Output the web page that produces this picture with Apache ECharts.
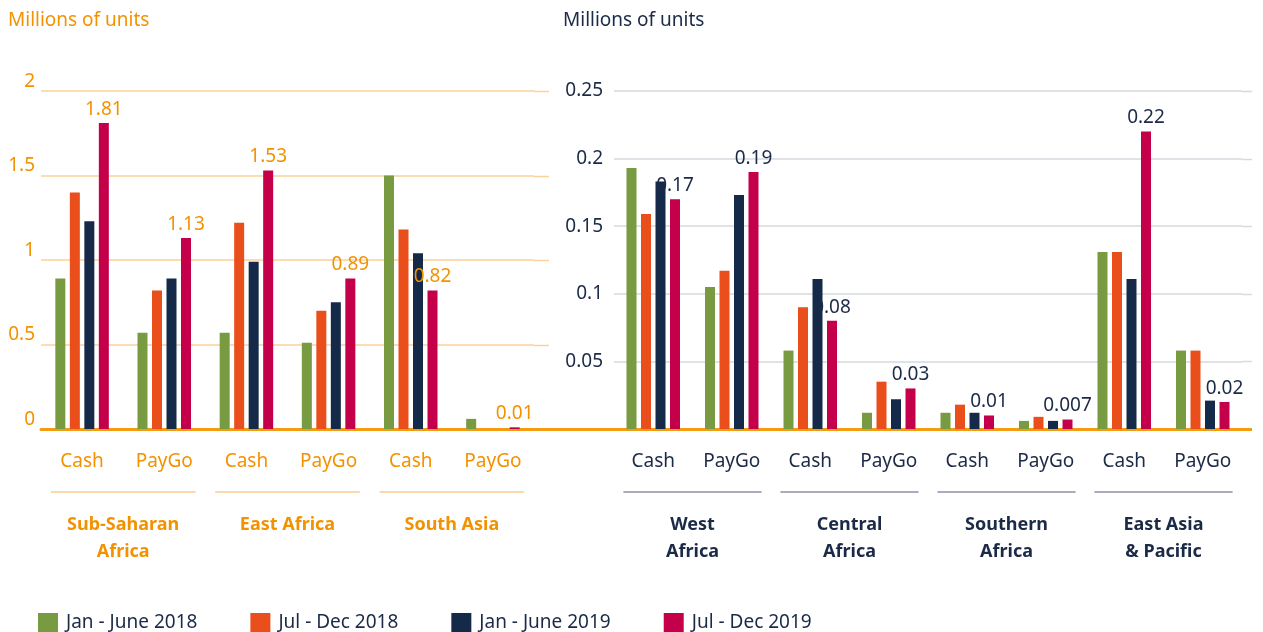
<!DOCTYPE html>
<html>
<head>
<meta charset="utf-8">
<script src="https://cdn.jsdelivr.net/npm/echarts@6/dist/echarts.min.js"></script>
<style>
html,body{margin:0;padding:0;background:#fff;}
#chart{width:1263px;height:632px;}
</style>
</head>
<body>
<div id="chart"></div>
<script>
// ---- data ----
var seriesNames = ['Jan - June 2018', 'Jul - Dec 2018', 'Jan - June 2019', 'Jul - Dec 2019'];

var leftCategories = ['Cash', 'PayGo', 'Cash', 'PayGo', 'Cash', 'PayGo'];
var leftGroups = ['Sub-Saharan\nAfrica', 'East Africa', 'South Asia'];
var leftJanJun2018 = [0.89, 0.57, 0.57, 0.51, 1.50, 0.06];
var leftJulDec2018 = [1.40, 0.82, 1.22, 0.70, 1.18, 0];
var leftJanJun2019 = [1.23, 0.89, 0.99, 0.75, 1.04, 0];
var leftJulDec2019 = [1.81, 1.13, 1.53, 0.89, 0.82, 0.01];
var leftTicks = [0, 0.5, 1, 1.5, 2];

var rightCategories = ['Cash', 'PayGo', 'Cash', 'PayGo', 'Cash', 'PayGo', 'Cash', 'PayGo'];
var rightGroups = ['West\nAfrica', 'Central\nAfrica', 'Southern\nAfrica', 'East Asia\n& Pacific'];
var rightJanJun2018 = [0.193, 0.105, 0.058, 0.012, 0.012, 0.006, 0.131, 0.058];
var rightJulDec2018 = [0.159, 0.117, 0.090, 0.035, 0.018, 0.009, 0.131, 0.058];
var rightJanJun2019 = [0.183, 0.173, 0.111, 0.022, 0.012, 0.006, 0.111, 0.021];
var rightJulDec2019 = [0.17, 0.19, 0.08, 0.03, 0.01, 0.007, 0.22, 0.02];
var rightTicks = [0, 0.05, 0.1, 0.15, 0.2, 0.25];

// ---- style ----
var colors = ['#789A40', '#E94E1B', '#152A48', '#C5004A'];
var ORANGE = '#F39200';
var NAVY = '#1B2A47';
var FONT = 'Noto Sans';
var FS = 19;
var LEFT_GRID = [41, 534], LEFT_LINES_END = 549;
var RIGHT_GRID = [614, 1242], RIGHT_LINES_END = 1252;
var BASE_Y = 429, TOP_Y = 91;

var chart = echarts.init(document.getElementById('chart'));

function barSeries(name, data, idx, color, labelColor, showLabel) {
  return {
    name: name, type: 'bar', xAxisIndex: idx, yAxisIndex: idx,
    data: data, barWidth: 10, barGap: '45%',
    itemStyle: { color: color },
    label: {
      show: showLabel, position: 'top', distance: 4,
      color: labelColor, fontSize: FS, fontFamily: FONT
    }
  };
}

var leftData = [leftJanJun2018, leftJulDec2018, leftJanJun2019, leftJulDec2019];
var rightData = [rightJanJun2018, rightJulDec2018, rightJanJun2019, rightJulDec2019];
var series = [];
for (var i = 0; i < 4; i++) {
  series.push(barSeries(seriesNames[i], leftData[i], 0, colors[i], ORANGE, i === 3));
}
for (var j = 0; j < 4; j++) {
  series.push(barSeries(seriesNames[j], rightData[j], 1, colors[j], NAVY, j === 3));
}

var option = {
  backgroundColor: '#fff',
  animation: false,
  textStyle: { fontFamily: FONT },
  title: [
    { text: 'Millions of units', left: 3, top: 6,
      textStyle: { color: ORANGE, fontSize: FS, fontWeight: 'normal', fontFamily: FONT } },
    { text: 'Millions of units', left: 558, top: 6,
      textStyle: { color: NAVY, fontSize: FS, fontWeight: 'normal', fontFamily: FONT } }
  ],
  legend: {
    data: seriesNames, left: 33, top: 608, icon: 'rect',
    itemWidth: 20, itemHeight: 20, itemGap: 53,
    textStyle: { color: NAVY, fontSize: FS, fontFamily: FONT, padding: [0, 0, 0, 3] }
  },
  grid: [
    { left: LEFT_GRID[0], right: 1263 - LEFT_GRID[1], top: TOP_Y, bottom: 632 - BASE_Y },
    { left: RIGHT_GRID[0], right: 1263 - RIGHT_GRID[1], top: TOP_Y, bottom: 632 - BASE_Y }
  ],
  xAxis: [
    { type: 'category', gridIndex: 0, data: leftCategories,
      axisLine: { lineStyle: { color: '#F39C12', width: 3 } },
      axisTick: { show: false },
      axisLabel: { color: ORANGE, fontSize: FS, margin: 23, fontFamily: FONT } },
    { type: 'category', gridIndex: 1, data: rightCategories,
      axisLine: { lineStyle: { color: '#F39C12', width: 3 } },
      axisTick: { show: false },
      axisLabel: { color: NAVY, fontSize: FS, margin: 23, fontFamily: FONT } },
    { type: 'category', gridIndex: 0, data: leftGroups, position: 'bottom', offset: 74,
      axisLine: { show: false }, axisTick: { show: false },
      axisLabel: { color: ORANGE, fontSize: 18, fontWeight: 'bold', lineHeight: 27, margin: 8, fontFamily: FONT } },
    { type: 'category', gridIndex: 1, data: rightGroups, position: 'bottom', offset: 74,
      axisLine: { show: false }, axisTick: { show: false },
      axisLabel: { color: NAVY, fontSize: 18, fontWeight: 'bold', lineHeight: 27, margin: 8, fontFamily: FONT } }
  ],
  yAxis: [
    { type: 'value', gridIndex: 0, min: leftTicks[0], max: leftTicks[leftTicks.length - 1], interval: 0.5,
      axisLine: { show: false }, axisTick: { show: false },
      splitLine: { lineStyle: { color: '#FCD09A', width: 1.5 } },
      axisLabel: { color: ORANGE, fontSize: FS, margin: 6, fontFamily: FONT, verticalAlign: 'bottom' } },
    { type: 'value', gridIndex: 1, min: rightTicks[0], max: rightTicks[rightTicks.length - 1], interval: 0.05,
      axisLine: { show: false }, axisTick: { show: false },
      splitLine: { lineStyle: { color: '#D5DADF', width: 1.5 } },
      axisLabel: { color: NAVY, fontSize: FS, margin: 11, fontFamily: FONT,
        formatter: function (v) { return v === 0 ? '' : String(v); } } }
  ],
  series: series
};
chart.setOption(option);

// separator lines under each Cash/PayGo pair, plus extensions of the grid lines and baseline
function drawDecor() {
  var g = [];
  function pairLines(xIdx, nGroups, color) {
    var p0 = chart.convertToPixel({ xAxisIndex: xIdx }, 0);
    var p1 = chart.convertToPixel({ xAxisIndex: xIdx }, 1);
    var half = (p1 - p0) * 0.88;
    for (var k = 0; k < nGroups; k++) {
      var a = chart.convertToPixel({ xAxisIndex: xIdx }, 2 * k);
      var b = chart.convertToPixel({ xAxisIndex: xIdx }, 2 * k + 1);
      var c = (a + b) / 2;
      g.push({ type: 'line', shape: { x1: c - half, y1: 492, x2: c + half, y2: 492 },
        style: { stroke: color, lineWidth: 1.5 }, silent: true });
    }
  }
  pairLines(0, leftGroups.length, '#FCCB8C');
  pairLines(1, rightGroups.length, '#8C8FA8');
  function extendLines(yIdx, ticks, x1, x2, color) {
    for (var t = 1; t < ticks.length; t++) {
      var y = Math.round(chart.convertToPixel({ yAxisIndex: yIdx }, ticks[t])) + 0.5;
      g.push({ type: 'line', shape: { x1: x1, y1: y, x2: x2, y2: y },
        style: { stroke: color, lineWidth: 1.5 }, silent: true, z: -1 });
    }
  }
  extendLines(0, leftTicks, LEFT_GRID[1], LEFT_LINES_END, '#FCD09A');
  extendLines(1, rightTicks, RIGHT_GRID[1], RIGHT_LINES_END, '#D5DADF');
  var y0 = Math.round(chart.convertToPixel({ yAxisIndex: 0 }, 0)) + 0.5;
  g.push({ type: 'line', shape: { x1: LEFT_GRID[1] - 1, y1: y0, x2: RIGHT_GRID[0] + 1, y2: y0 },
    style: { stroke: '#F39C12', lineWidth: 3 }, silent: true });
  g.push({ type: 'line', shape: { x1: RIGHT_GRID[1] - 1, y1: y0, x2: RIGHT_LINES_END, y2: y0 },
    style: { stroke: '#F39C12', lineWidth: 3 }, silent: true });
  chart.setOption({ graphic: g });
}
drawDecor();
</script>
</body>
</html>
